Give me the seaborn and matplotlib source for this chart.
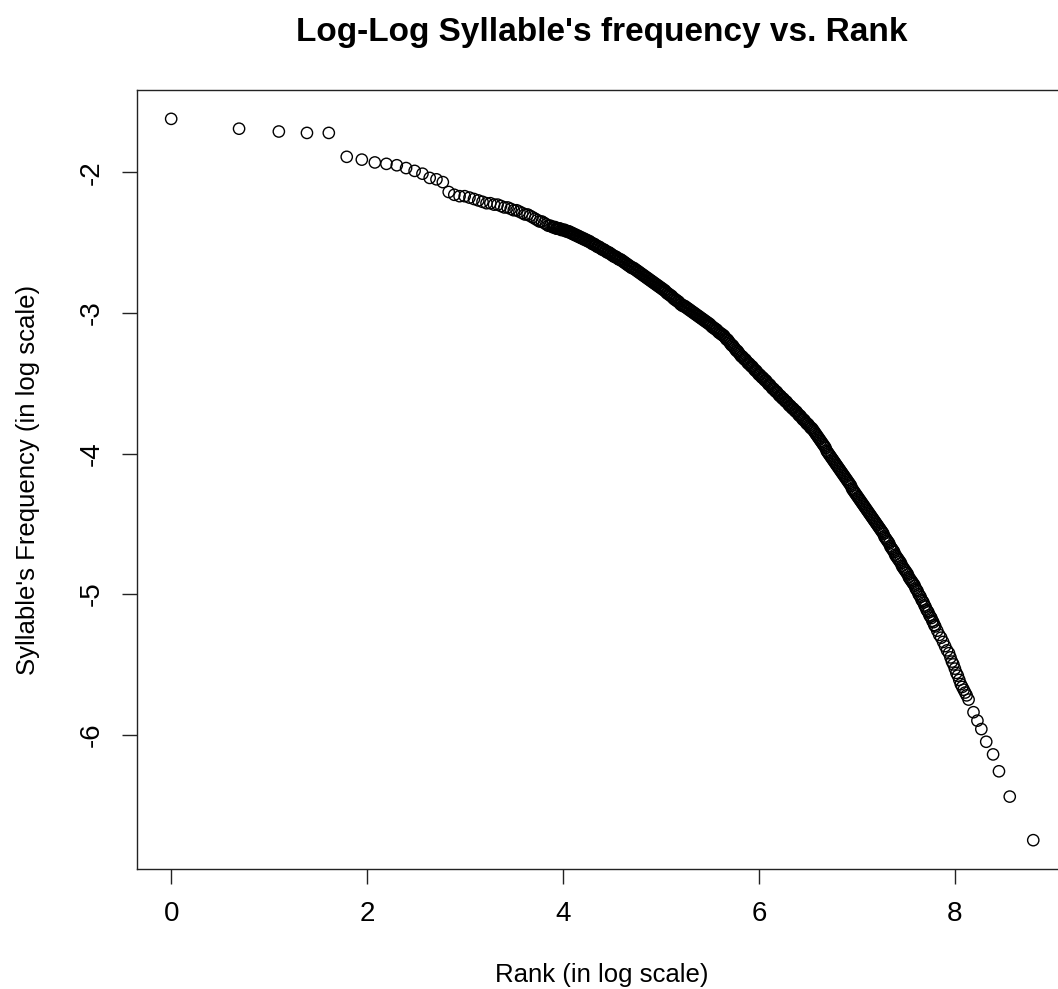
import numpy as np
import pandas as pd
import matplotlib
matplotlib.use("Agg")
import matplotlib.pyplot as plt
import seaborn as sns

# Values: natural log of rank vs natural log of frequency

# Top ranks (1..49), drawn as separate circles
head_log_rank = [0.000, 0.693, 1.099, 1.386, 1.609, 1.792, 1.946, 2.079, 2.197, 2.303,
                 2.398, 2.485, 2.565, 2.639, 2.708, 2.773, 2.833, 2.890, 2.944, 2.996,
                 3.045, 3.091, 3.135, 3.178, 3.219, 3.258, 3.296, 3.332, 3.367, 3.401,
                 3.434, 3.466, 3.497, 3.526, 3.555, 3.584, 3.611, 3.638, 3.664, 3.689,
                 3.714, 3.738, 3.761, 3.784, 3.807, 3.829, 3.850, 3.871, 3.892]
head_log_freq = [-1.62, -1.69, -1.71, -1.72, -1.72, -1.89, -1.91, -1.93, -1.94, -1.95,
                 -1.97, -1.99, -2.01, -2.04, -2.05, -2.07, -2.14, -2.16, -2.17, -2.17,
                 -2.18, -2.19, -2.20, -2.21, -2.22, -2.22, -2.23, -2.23, -2.24, -2.25,
                 -2.25, -2.26, -2.27, -2.27, -2.28, -2.29, -2.30, -2.30, -2.31, -2.32,
                 -2.33, -2.34, -2.35, -2.35, -2.36, -2.37, -2.38, -2.38, -2.39]

# Dense band, read every 0.01 of log rank from 3.90 to 7.80
band_start = 3.90
band_step = 0.01
band_log_freq = [
    -2.39, -2.39, -2.39, -2.40, -2.40, -2.40, -2.40, -2.40, -2.41, -2.41,
    -2.41, -2.41, -2.41, -2.42, -2.42, -2.42, -2.42, -2.43, -2.43, -2.43,
    -2.44, -2.44, -2.44, -2.45, -2.45, -2.45, -2.46, -2.46, -2.46, -2.47,
    -2.47, -2.47, -2.48, -2.48, -2.48, -2.49, -2.49, -2.49, -2.50, -2.50,
    -2.51, -2.51, -2.51, -2.52, -2.52, -2.53, -2.53, -2.53, -2.54, -2.54,
    -2.55, -2.55, -2.55, -2.56, -2.56, -2.57, -2.57, -2.57, -2.58, -2.58,
    -2.59, -2.59, -2.60, -2.60, -2.60, -2.61, -2.61, -2.62, -2.62, -2.62,
    -2.63, -2.63, -2.64, -2.64, -2.65, -2.65, -2.66, -2.66, -2.67, -2.67,
    -2.68, -2.68, -2.68, -2.69, -2.69, -2.70, -2.70, -2.71, -2.71, -2.72,
    -2.72, -2.73, -2.73, -2.74, -2.74, -2.75, -2.75, -2.76, -2.76, -2.77,
    -2.77, -2.78, -2.78, -2.79, -2.79, -2.80, -2.80, -2.81, -2.81, -2.82,
    -2.82, -2.83, -2.83, -2.84, -2.84, -2.85, -2.86, -2.86, -2.87, -2.87,
    -2.88, -2.88, -2.89, -2.90, -2.90, -2.91, -2.91, -2.92, -2.92, -2.93,
    -2.94, -2.94, -2.95, -2.95, -2.95, -2.96, -2.96, -2.97, -2.97, -2.98,
    -2.98, -2.99, -2.99, -3.00, -3.00, -3.01, -3.01, -3.02, -3.02, -3.03,
    -3.03, -3.04, -3.04, -3.05, -3.05, -3.06, -3.06, -3.07, -3.07, -3.08,
    -3.08, -3.09, -3.10, -3.10, -3.11, -3.11, -3.12, -3.12, -3.13, -3.14,
    -3.14, -3.15, -3.15, -3.16, -3.16, -3.17, -3.18, -3.19, -3.19, -3.20,
    -3.21, -3.22, -3.23, -3.23, -3.24, -3.25, -3.26, -3.27, -3.27, -3.28,
    -3.29, -3.30, -3.31, -3.31, -3.32, -3.33, -3.33, -3.34, -3.35, -3.36,
    -3.36, -3.37, -3.38, -3.38, -3.39, -3.40, -3.41, -3.41, -3.42, -3.43,
    -3.44, -3.44, -3.45, -3.46, -3.46, -3.47, -3.48, -3.48, -3.49, -3.50,
    -3.51, -3.51, -3.52, -3.53, -3.54, -3.54, -3.55, -3.56, -3.56, -3.57,
    -3.58, -3.59, -3.59, -3.60, -3.61, -3.61, -3.62, -3.63, -3.63, -3.64,
    -3.65, -3.66, -3.66, -3.67, -3.68, -3.68, -3.69, -3.70, -3.70, -3.71,
    -3.72, -3.73, -3.73, -3.74, -3.75, -3.76, -3.76, -3.77, -3.78, -3.79,
    -3.79, -3.80, -3.81, -3.82, -3.82, -3.83, -3.84, -3.85, -3.86, -3.87,
    -3.88, -3.89, -3.90, -3.91, -3.92, -3.93, -3.94, -3.95, -3.96, -3.98,
    -3.99, -4.00, -4.01, -4.02, -4.03, -4.04, -4.05, -4.06, -4.07, -4.08,
    -4.09, -4.10, -4.11, -4.12, -4.13, -4.14, -4.15, -4.16, -4.17, -4.18,
    -4.19, -4.20, -4.21, -4.22, -4.23, -4.25, -4.26, -4.27, -4.28, -4.29,
    -4.30, -4.31, -4.32, -4.33, -4.34, -4.35, -4.36, -4.37, -4.38, -4.39,
    -4.40, -4.41, -4.42, -4.43, -4.44, -4.45, -4.46, -4.47, -4.48, -4.49,
    -4.50, -4.51, -4.52, -4.53, -4.54, -4.55, -4.56, -4.57, -4.59, -4.60,
    -4.61, -4.62, -4.63, -4.64, -4.66, -4.67, -4.68, -4.69, -4.70, -4.72,
    -4.73, -4.74, -4.75, -4.76, -4.77, -4.78, -4.80, -4.81, -4.82, -4.83,
    -4.84, -4.85, -4.86, -4.88, -4.89, -4.90, -4.91, -4.92, -4.93, -4.94,
    -4.96, -4.97, -4.98, -5.00, -5.01, -5.02, -5.04, -5.05, -5.06, -5.08,
    -5.09, -5.11, -5.12, -5.13, -5.15, -5.16, -5.17, -5.19, -5.20, -5.22,
    -5.23,
]

# Rarest syllables, the circles separate again
tail_log_rank = [7.82, 7.84, 7.86, 7.88, 7.90, 7.92, 7.94, 7.955, 7.97, 7.985,
                 8.00, 8.015, 8.03, 8.045, 8.06, 8.075, 8.09, 8.105, 8.12, 8.14,
                 8.19, 8.23, 8.27, 8.32, 8.39, 8.45, 8.56, 8.80]
tail_log_freq = [-5.26, -5.29, -5.31, -5.34, -5.37, -5.40, -5.42, -5.45, -5.48, -5.50,
                 -5.53, -5.56, -5.58, -5.61, -5.64, -5.66, -5.68, -5.70, -5.72, -5.75,
                 -5.84, -5.90, -5.96, -6.05, -6.14, -6.26, -6.44, -6.75]

x_ticks = [0, 2, 4, 6, 8]
y_ticks = [-6, -5, -4, -3, -2]

band_log_rank = band_start + band_step * np.arange(len(band_log_freq))
df = pd.DataFrame({
    "log_rank": np.concatenate([head_log_rank, band_log_rank, tail_log_rank]),
    "log_freq": np.concatenate([head_log_freq, band_log_freq, tail_log_freq]),
})

sns.set_style("ticks")
plt.rcParams["font.family"] = ["Liberation Sans", "DejaVu Sans"]
plt.rcParams["axes.unicode_minus"] = False
plt.rcParams["text.color"] = "black"
plt.rcParams["axes.labelcolor"] = "black"
plt.rcParams["xtick.color"] = "black"
plt.rcParams["ytick.color"] = "black"

fig = plt.figure(figsize=(10.58, 9.89), dpi=100)
# axes run past the right edge, like the cropped original
ax = fig.add_axes([0.1292, 0.1213, 0.880, 0.7877])

sns.scatterplot(data=df, x="log_rank", y="log_freq", ax=ax, marker="o",
                s=66, facecolors="none", edgecolor="black", linewidth=1.0)

# R-style 4% padding around the data range
xmin, xmax = df["log_rank"].min(), df["log_rank"].max()
ymin, ymax = df["log_freq"].min(), df["log_freq"].max()
xpad = 0.04 * (xmax - xmin)
ypad = 0.04 * (ymax - ymin)
ax.set_xlim(xmin - xpad, xmax + xpad)
ax.set_ylim(ymin - ypad, ymax + ypad)

ax.set_xticks(x_ticks)
ax.set_yticks(y_ticks)
ax.tick_params(axis="both", length=11, width=1.0, color="#222222",
               labelsize=20, pad=12, labelcolor="black")
ax.tick_params(axis="y", labelrotation=90)
for lab in ax.get_yticklabels():
    lab.set_va("center")

for sp in ax.spines.values():
    sp.set_visible(True)
    sp.set_linewidth(1.0)
    sp.set_color("#222222")

ax.set_xlabel("Rank (in log scale)", fontsize=18.5, va="center")
ax.set_ylabel("Syllable's Frequency (in log scale)", fontsize=18.5, va="center")
ax.xaxis.set_label_coords(0.5, -0.136)
ax.yaxis.set_label_coords(-0.117, 0.5)

fig.text(0.5692, 0.9676, "Log-Log Syllable's frequency vs. Rank",
         ha="center", va="center", fontsize=24, fontweight="bold")

fig.savefig("out.png", dpi=100)
